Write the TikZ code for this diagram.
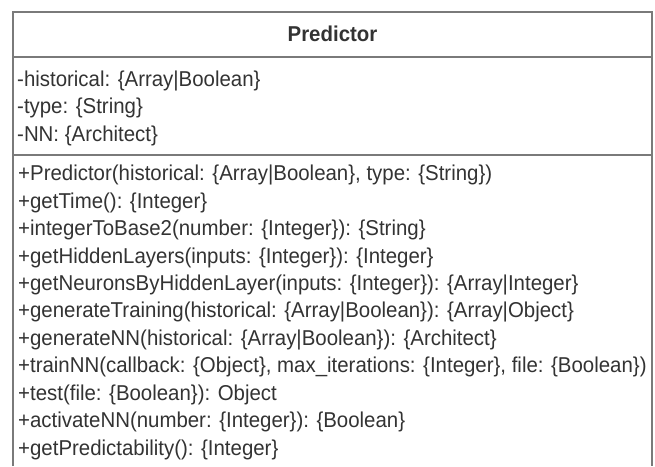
\documentclass[tikz,border=0pt]{standalone}
\usepackage{fontspec}
\setmainfont[FakeStretch=0.95]{Liberation Sans}
\definecolor{txtc}{HTML}{333333}
\definecolor{linec}{HTML}{7A7A7A}
\begin{document}
\begin{tikzpicture}[x=1pt,y=-1pt,
  member/.style={anchor=base west,inner sep=0pt,text=txtc,font=\fontsize{21.5}{26}\selectfont},
  titletext/.style={anchor=base,inner sep=0pt,text=txtc,font=\fontsize{21.5}{26}\selectfont\bfseries},
  boxline/.style={draw=linec,line width=1.8pt}]
\useasboundingbox (0,0) rectangle (655,466);
\fill[white] (0,0) rectangle (655,466);
% box
\coordinate (bl) at (13,466);
\coordinate (tl) at (13,12);
\coordinate (tr) at (652,12);
\coordinate (br) at (652,466);
\coordinate (s1l) at (13,57);
\coordinate (s1r) at (652,57);
\coordinate (s2l) at (13,155);
\coordinate (s2r) at (652,155);
\draw[boxline] (bl) -- (tl) -- (tr) -- (br);
\draw[boxline] (s1l) -- (s1r);
\draw[boxline] (s2l) -- (s2r);
% title
\node[titletext] (title) at (332.5,41.7) {Predictor};
% attributes
\node[member] (a1) at (17,86) {-historical: \{Array|Boolean\}};
\node[member] (a2) at (17,113.5) {-type: \{String\}};
\node[member] (a3) at (17,141) {-NN: \{Architect\}};
% methods
\node[member] (m1) at (18,180.7) {+Predictor(historical: \{Array|Boolean\}, type: \{String\})};
\node[member] (m2) at (18,208.1) {+getTime(): \{Integer\}};
\node[member] (m3) at (18,235.6) {+integerToBase2(number: \{Integer\}): \{String\}};
\node[member] (m4) at (18,263.0) {+getHiddenLayers(inputs: \{Integer\}): \{Integer\}};
\node[member] (m5) at (18,290.4) {+getNeuronsByHiddenLayer(inputs: \{Integer\}): \{Array|Integer\}};
\node[member] (m6) at (18,317.9) {+generateTraining(historical: \{Array|Boolean\}): \{Array|Object\}};
\node[member] (m7) at (18,345.3) {+generateNN(historical: \{Array|Boolean\}): \{Architect\}};
\node[member] (m8) at (18,372.7) {+trainNN(callback: \{Object\}, max\_iterations: \{Integer\}, file: \{Boolean\})};
\node[member] (m9) at (18,400.1) {+test(file: \{Boolean\}): Object};
\node[member] (m10) at (18,427.6) {+activateNN(number: \{Integer\}): \{Boolean\}};
\node[member] (m11) at (18,455) {+getPredictability(): \{Integer\}};
\end{tikzpicture}
\end{document}
